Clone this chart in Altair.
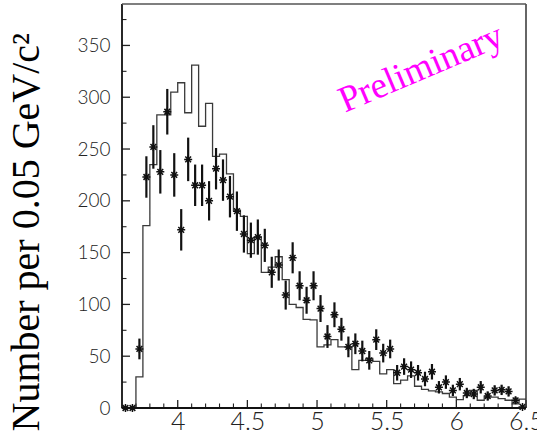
import altair as alt
import pandas as pd

# ---- data ----
bin_width = 0.05
n_bins = 58
bin_lo = [round(3.60 + bin_width * i, 3) for i in range(n_bins)]
bin_center = [round(b + bin_width / 2, 3) for b in bin_lo]

hist_counts = [0, 0, 30, 176, 235, 283, 283, 305,
               314, 285, 331, 272, 294, 243, 245, 226, 191, 185,
               149, 165, 131, 136, 146, 124, 100, 97, 85.5, 85,
               59, 61, 66, 59, 59, 37, 46, 48, 45, 33,
               37, 23.5, 27, 31, 21, 18, 16.5, 15.5, 14, 10.5,
               8, 12, 17, 7.5, 10.5, 10.5, 9, 7.5, 4, 8.5]

data_counts = [0, 0, 57, 223, 252, 228, 286, 225,
               172, 240, 215, 215, 200, 231, 220, 204, 190, 168,
               162, 165, 157, 131, 138, 109, 145, 118, 104, 118,
               96, 69, 90, 76, 59, 62, 55, 46, 66, 53,
               57, 34, 40, 37, 34, 28, 35, 20, 25, 17,
               23, 14.5, 13.5, 20, 11.6, 17, 17.5, 16, 7.4, 1]

data_errors = [0, 0, 10, 20, 21, 21, 22, 21,
               20, 21, 20, 20, 19, 20, 20, 20, 19, 18,
               17, 17, 16, 15, 15, 14, 15, 14, 13, 14,
               13, 11, 12, 11, 10, 10, 10, 9, 10, 9,
               9, 7.5, 8, 8, 7.5, 7, 7.5, 6, 6.5, 5.5,
               6, 5, 5, 6, 4.5, 5, 5, 5, 3.5, 1.5]

x_major = [4, 4.5, 5, 5.5, 6, 6.5]
x_minor = [3.7, 3.8, 3.9, 4.1, 4.2, 4.3, 4.4, 4.6, 4.7, 4.8, 4.9,
           5.1, 5.2, 5.3, 5.4, 5.6, 5.7, 5.8, 5.9, 6.1, 6.2, 6.3, 6.4]
y_major = [0, 50, 100, 150, 200, 250, 300, 350]
y_minor = [25, 75, 125, 175, 225, 275, 325, 375]

label_text = ["Preliminary"]
label_x = [5.20]
label_y = [285]

y_title = "Number per 0.05 GeV/c²"

# ---- tables ----
hist_df = pd.DataFrame({"x": bin_lo + [6.5], "y": hist_counts + [hist_counts[-1]]})
pts_df = pd.DataFrame({"x": bin_center, "y": data_counts,
                       "lo": [max(v - e, 0) for v, e in zip(data_counts, data_errors)],
                       "hi": [v + e for v, e in zip(data_counts, data_errors)]})
xmaj_df = pd.DataFrame({"x": x_major})
xmin_df = pd.DataFrame({"x": x_minor})
ymaj_df = pd.DataFrame({"y": y_major})
ymin_df = pd.DataFrame({"y": y_minor})
lab_df = pd.DataFrame({"x": label_x, "y": label_y, "t": label_text})
frame_df = pd.DataFrame({"k": [0]})

W, H = 404, 404
xscale = alt.Scale(domain=[3.6, 6.5], nice=False, zero=False)
yscale = alt.Scale(domain=[0, 390], nice=False, zero=False)

label_font = "Lato"
xaxis = alt.Axis(values=x_major, ticks=False, domain=False, grid=False,
                 labelFont=label_font, labelFontSize=25, labelFontWeight=300,
                 labelColor="#222", labelPadding=1, labelFlush=False,
                 labelExpr="datum.value", title=None)
yaxis = alt.Axis(values=y_major, ticks=False, domain=False, grid=False,
                 labelFont=label_font, labelFontSize=19, labelFontWeight=300,
                 labelColor="#222", labelPadding=12,
                 title=y_title,
                 titleFont="Liberation Serif", titleFontSize=40,
                 titleFontWeight="normal", titleColor="#000",
                 titleAngle=270, titleAlign="left", titleBaseline="alphabetic",
                 titleX=-84, titleY=427)


def X(field="x"):
    return alt.X(f"{field}:Q", scale=xscale, axis=xaxis)


def Y(field="y"):
    return alt.Y(f"{field}:Q", scale=yscale, axis=yaxis)


hist = alt.Chart(hist_df).mark_line(interpolate="step-after", color="#3a3a3a",
                                    strokeWidth=1.3).encode(x=X(), y=Y())

errs = alt.Chart(pts_df).mark_rule(color="#111", strokeWidth=2.2).encode(
    x=X(), y=Y("lo"), y2="hi")

star_path = ("M-1,0L1,0M0,-1L0,1M-0.72,-0.72L0.72,0.72M-0.72,0.72L0.72,-0.72")
stars = alt.Chart(pts_df).mark_point(shape=star_path, filled=False, color="#111",
                                     strokeWidth=1.5, size=64, opacity=1).encode(
    x=X(), y=Y())

xmaj = alt.Chart(xmaj_df).mark_rule(color="#222", strokeWidth=1.3).encode(
    x=X(), y=alt.value(H), y2=alt.value(H - 8))
xmin = alt.Chart(xmin_df).mark_rule(color="#222", strokeWidth=1.1).encode(
    x=X(), y=alt.value(H), y2=alt.value(H - 4.5))
ymaj = alt.Chart(ymaj_df).mark_rule(color="#222", strokeWidth=1.3).encode(
    y=Y(), x=alt.value(0), x2=alt.value(8))
ymin = alt.Chart(ymin_df).mark_rule(color="#222", strokeWidth=1.1).encode(
    y=Y(), x=alt.value(0), x2=alt.value(4.5))

frame_left = alt.Chart(frame_df).mark_rule(color="#111", strokeWidth=1.8).encode(
    x=alt.value(0), y=alt.value(0), y2=alt.value(H))
frame_right = alt.Chart(frame_df).mark_rule(color="#333", strokeWidth=1.5).encode(
    x=alt.value(W), y=alt.value(0), y2=alt.value(H))
frame_top = alt.Chart(frame_df).mark_rule(color="#555", strokeWidth=1.3).encode(
    y=alt.value(0), x=alt.value(0), x2=alt.value(W))
frame_bottom = alt.Chart(frame_df).mark_rule(color="#111", strokeWidth=1.8).encode(
    y=alt.value(H), x=alt.value(0), x2=alt.value(W))

prelim = alt.Chart(lab_df).mark_text(font="Liberation Serif", fontSize=37,
                                     color="#ff00ff", angle=337, align="left",
                                     baseline="alphabetic").encode(
    x=X(), y=Y(), text="t:N")

chart = alt.layer(hist, errs, stars, xmaj, xmin, ymaj, ymin,
                  frame_left, frame_right, frame_top, frame_bottom,
                  prelim).properties(
    width=W, height=H,
    background="white",
    autosize=alt.AutoSizeParams(type="none"),
    padding={"left": 122, "top": 4, "right": 11, "bottom": 29},
).configure_view(stroke="transparent", strokeWidth=0)

chart.save("out.html", embed_options={"renderer": "svg", "actions": False})
